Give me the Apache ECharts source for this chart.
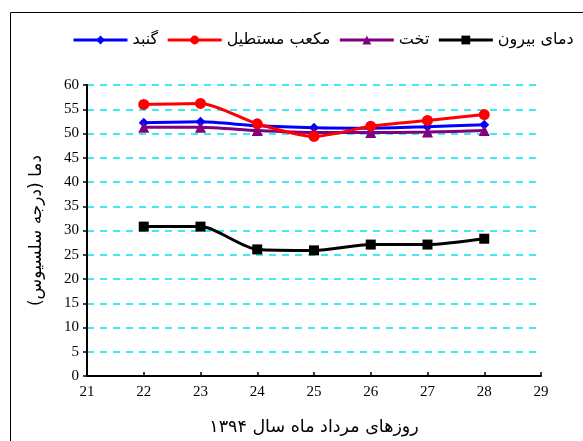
<!DOCTYPE html>
<html><head><meta charset="utf-8">
<script src="https://cdn.jsdelivr.net/npm/echarts@6/dist/echarts.min.js"></script>
<style>html,body{margin:0;padding:0;background:#fff}#c{width:583px;height:441px}</style>
</head><body><div id="c"></div>
<script>
var days = [22, 23, 24, 25, 26, 27, 28];
var seriesNames = ['گنبد', 'مکعب مستطیل', 'تخت', 'دمای بیرون'];
var gonbad = [52.2, 52.4, 51.6, 51.2, 51.1, 51.4, 51.8];
var mokaab = [56.0, 56.2, 52.0, 49.4, 51.5, 52.7, 53.9];
var takht = [51.3, 51.3, 50.6, 50.2, 50.2, 50.3, 50.6];
var biroon = [30.8, 30.8, 26.1, 25.9, 27.1, 27.1, 28.3];
var yTitle = 'دما (درجه سلسیوس)';
var xTitle = 'روزهای مرداد ماه سال ۱۳۹۴';

function pairs(v){ return days.map(function(d,i){ return [d, v[i]]; }); }
var colors = ['#0000ff', '#ff0000', '#800080', '#000000'];
var symbols = ['diamond', 'circle', 'triangle', 'rect'];
var sizes = [10, 11, 11, 10];
var vals = [gonbad, mokaab, takht, biroon];

var chart = echarts.init(document.getElementById('c'));
chart.setOption({
  animation: false,
  graphic: [{type:'rect', left:8, top:10, shape:{width:700, height:600}, style:{fill:'none', stroke:'#000', lineWidth:1}}],
  legend: {
    top: 32, left: 72, width: 511, padding: 0,
    itemWidth: 54, itemHeight: 11, itemGap: 8,
    lineStyle: {width: 3},
    textStyle: {fontFamily: 'DejaVu Sans', fontSize: 16, color: '#000'},
    data: seriesNames
  },
  grid: {left: 87, right: 42, top: 85, bottom: 62.5},
  xAxis: {
    type: 'value', min: 21, max: 29, interval: 1,
    name: xTitle, nameLocation: 'middle', nameGap: 42,
    nameTextStyle: {fontFamily: 'DejaVu Sans', fontSize: 17.5, color: '#000'},
    axisLine: {lineStyle: {color: '#000', width: 2}},
    axisTick: {inside: true, length: 4, lineStyle: {color: '#000', width: 1.5}},
    axisLabel: {fontFamily: 'Liberation Serif', fontSize: 15, color: '#000', margin: 9},
    splitLine: {show: false}
  },
  yAxis: {
    type: 'value', min: 0, max: 60, interval: 5,
    name: yTitle, nameLocation: 'middle', nameGap: 42, nameRotate: 90,
    nameTextStyle: {fontFamily: 'DejaVu Sans', fontSize: 17, color: '#000'},
    axisLine: {show: true, lineStyle: {color: '#000', width: 2}},
    axisTick: {show: true, length: 4, lineStyle: {color: '#000', width: 1.5}},
    axisLabel: {fontFamily: 'Liberation Serif', fontSize: 15, color: '#000', margin: 8},
    splitLine: {show: true, lineStyle: {color: '#00e5ee', type: [7, 6], width: 1.5}}
  },
  series: seriesNames.map(function(n, i){
    return {
      name: n, type: 'line', smooth: 0.25,
      data: pairs(vals[i]),
      symbol: symbols[i], symbolSize: sizes[i],
      lineStyle: {color: colors[i], width: 3},
      itemStyle: {color: colors[i]},
      z: i === 1 ? 3 : 2
    };
  })
});
</script></body></html>
